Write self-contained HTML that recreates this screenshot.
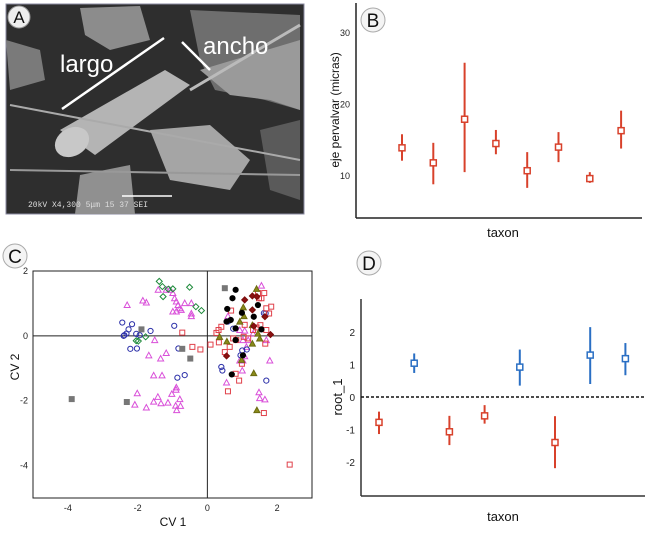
<!DOCTYPE html>
<html><head><meta charset="utf-8"><style>
body{margin:0;background:#fff;}
svg{display:block;font-family:"Liberation Sans",sans-serif;}
</style></head><body>
<svg id="fig" width="650" height="537" viewBox="0 0 650 537" xmlns="http://www.w3.org/2000/svg">
<g>
  <rect x="6" y="4" width="298" height="210" fill="#2e2e2e" stroke="#8a8aa0"/>
  <polygon points="80,8 140,6 150,40 110,50 85,35" fill="#8c8c8c"/>
  <polygon points="190,10 300,15 300,110 265,100 215,90 200,60" fill="#6e6e6e"/>
  <polygon points="200,70 300,40 300,110 270,100 230,95" fill="#9a9a9a"/>
  <polygon points="150,130 210,125 250,160 230,190 170,180" fill="#a5a5a5"/>
  <polygon points="6,40 40,50 45,80 10,90" fill="#7a7a7a"/>
  <polygon points="80,175 130,165 135,214 75,214" fill="#909090"/>
  <polygon points="260,130 300,120 300,200 270,190" fill="#5a5a5a"/>
  <polygon points="60,130 165,70 190,85 95,155" fill="#b4b4b4"/>
  <ellipse cx="72" cy="142" rx="18" ry="14" fill="#c8c8c8" transform="rotate(-30 72 142)"/>
  <line x1="10" y1="105" x2="300" y2="160" stroke="#aaa" stroke-width="2"/>
  <line x1="190" y1="90" x2="300" y2="25" stroke="#bbb" stroke-width="3"/>
  <line x1="10" y1="170" x2="300" y2="175" stroke="#999" stroke-width="2"/>
  <line x1="62" y1="109" x2="164" y2="38" stroke="#fff" stroke-width="2.5"/>
  <line x1="182" y1="42" x2="210" y2="70" stroke="#fff" stroke-width="2.5"/>
  <text x="60" y="72" font-size="24" fill="#fff">largo</text>
  <text x="203" y="54" font-size="24" fill="#fff">ancho</text>
  <line x1="122" y1="196" x2="172" y2="196" stroke="#fff" stroke-width="1.5"/>
  <text x="28" y="207" font-size="8" fill="#ddd" font-family="Liberation Mono,monospace">20kV  X4,300    5μm          15 37 SEI</text>
  <circle cx="19" cy="17" r="11" fill="#eee" stroke="#999"/>
  <text x="19" y="23" font-size="17" text-anchor="middle" fill="#111">A</text>
</g>
<g id="pb"></g>
<g id="pc"></g>
<g id="pd"></g>
</svg>
<script>
const NS="http://www.w3.org/2000/svg";
function mk(p,t,a){const e=document.createElementNS(NS,t);for(const k in a)e.setAttribute(k,a[k]);p.appendChild(e);return e;}
// Panel B data
const bMeans=[13.8,11.7,17.8,14.4,10.6,13.9,9.5,16.2];
const bHigh=[15.7,14.5,25.7,16.3,13.2,16.0,10.4,19.0];
const bLow=[12.0,8.7,10.4,12.9,8.2,11.8,8.9,13.7];
const bTicks=[10,20,30];
// Panel D data
const dMeans=[-0.78,1.04,-1.07,-0.58,0.92,-1.40,1.29,1.18];
const dHigh=[-0.45,1.34,-0.58,-0.25,1.46,-0.59,2.15,1.66];
const dLow=[-1.14,0.74,-1.48,-0.82,0.35,-2.19,0.40,0.67];
const dGroup=["r","b","r","r","b","r","b","b"];
const dTicks=[-2,-1,0,1,2];
// Panel C data
const cGrayX=[0.50,-1.89,-0.72,-0.49,-3.89,-2.31];
const cGrayY=[1.47,0.20,-0.40,-0.70,-1.95,-2.04];
const cGreenX=[-1.38,-1.29,-1.12,-0.99,-0.51,-0.33,-0.17,-1.27,-1.77,-2.04,-1.98];
const cGreenY=[1.68,1.52,1.44,1.45,1.50,0.90,0.78,1.21,-0.03,-0.15,-0.16];
const cBlueX=[-2.44,-2.16,-2.26,-2.32,-2.38,-2.40,-2.04,-1.94,-1.63,-0.95,-2.21,-2.02,-0.83,-0.86,-0.65,0.40,0.43,0.74,1.62,1.67,1.0,1.13,0.95,1.69,0.59];
const cBlueY=[0.41,0.36,0.20,0.07,0.02,0,0.06,0.02,0.15,0.31,-0.40,-0.39,-0.39,-1.29,-1.21,-0.96,-1.07,0.22,0.70,0.69,-0.45,-0.42,-0.6,-1.38,0.44];
const cPinkX=[-2.30,-1.85,-1.75,-1.41,-1.18,-1.08,-0.99,-0.94,-0.89,-0.84,-0.79,-0.75,-0.99,-0.89,-0.65,-0.46,-0.46,-0.46,-1.51,-1.68,-1.34,-1.18,-1.54,-1.30,-2.01,-2.08,-1.75,-1.54,-1.42,-1.33,-1.13,-1.02,-0.90,-0.91,-0.88,-0.79,-0.77,-0.89,1.55,0.59,0.93,1.07,1.17,1.12,1.07,1.02,0.93,1.69,1.79,0.55,1.0,1.48,1.50,1.65,1.02,1.31];
const cPinkY=[0.95,1.09,1.03,1.42,1.42,1.42,1.32,1.16,1.06,0.95,0.85,0.80,0.75,0.75,1.01,1.01,0.69,0.61,-0.13,-0.60,-0.70,-0.53,-1.22,-1.22,-1.77,-2.12,-2.21,-2.03,-1.88,-2.08,-2.06,-1.79,-1.66,-2.15,-2.29,-1.95,-2.16,-1.59,1.55,0.61,0.18,0.16,-0.13,-0.34,-0.63,-0.76,-0.76,-0.13,-0.76,-1.44,-1.07,-1.74,-1.92,-1.96,-0.13,0.07];
const cRedX=[-0.72,-0.43,-0.20,0.09,0.33,0.32,0.40,0.68,1.45,1.63,1.48,1.55,1.69,1.83,1.77,1.52,1.69,1.31,1.04,1.17,0.83,0.74,0.50,0.99,0.81,0.91,0.59,1.62,2.36,1.66,1.07,0.26,0.64,1.41];
const cRedY=[0.10,-0.34,-0.42,-0.27,-0.20,0.18,0.28,0.78,1.32,1.32,1.16,1.16,0.85,0.90,0.69,0.33,0.18,0.18,-0.03,-0.08,-0.13,-0.08,-0.50,-0.86,-1.17,-1.38,-1.71,-2.38,-3.97,-0.24,0.34,0.09,-0.34,0.26];
const cBlackX=[0.81,0.72,0.57,0.67,0.55,0.99,0.81,1.33,1.45,1.55,0.81,1.02,0.70];
const cBlackY=[1.42,1.16,0.83,0.49,0.44,0.71,0.23,0.59,0.95,0.20,-0.13,-0.60,-1.19];
const cDarkX=[1.07,1.29,1.42,1.29,1.65,1.81,0.55,1.33];
const cDarkY=[1.11,1.23,1.21,0.80,0.59,0.04,-0.62,0.30];
const cOliveX=[1.41,1.03,0.93,1.29,1.45,1.50,0.35,0.56,1.29,1.33,1.42,0.98,1.05];
const cOliveY=[1.45,0.88,0.44,0.33,0.07,-0.08,-0.03,-0.17,-0.24,-1.15,-2.29,-0.74,0.61];
const cXTicks=[-4,-2,0,2];
const cYTicks=[2,0,-2,-4];

function letter(g,cx,cy,t,name){
  const c=mk(g,"circle",{cx:cx,cy:cy,r:12,fill:"#f4f4f4",stroke:"#aaa"});
  
  
  const e=mk(g,"text",{x:cx,y:cy+7,"font-size":19,"text-anchor":"middle",fill:"#111"});e.textContent=t;
  
  
}
function errPlot(g,xs,means,hi,lo,yOf,colors,name){
  for(let i=0;i<means.length;i++){
    const col=colors[i];
    const l=mk(g,"line",{x1:xs[i],x2:xs[i],y1:yOf(hi[i]),y2:yOf(lo[i]),stroke:col,"stroke-width":2});
    
    
    const r=mk(g,"rect",{x:xs[i]-3,y:yOf(means[i])-3,width:6,height:6,fill:"#fff",stroke:col,"stroke-width":1.5});
    
    
  }
}
// Panel B
(function(){
  const g=document.getElementById("pb");
  const L=356,R=642,B=218,T=3;
  const yOf=v=>175-(v-10)*7.15;
  const xOf=i=>402+i*31.3;
  mk(g,"line",{x1:L,y1:T,x2:L,y2:B,stroke:"#222","stroke-width":1.5});
  mk(g,"line",{x1:L,y1:B,x2:R,y2:B,stroke:"#222","stroke-width":1.5});
  bTicks.forEach(t=>{const e=mk(g,"text",{x:350,y:yOf(t)+4,"font-size":9,"text-anchor":"end",fill:"#222"});e.textContent=t;
    
    });
  errPlot(g,bMeans.map((_,i)=>xOf(i)),bMeans,bHigh,bLow,yOf,bMeans.map(()=>"#d8412b"),"b");
  const yl=mk(g,"text",{x:0,y:0,"font-size":12,"text-anchor":"middle",fill:"#111",transform:"translate(339,110) rotate(-90)"});yl.textContent="eje pervalvar (micras)";
  
  
  const xl=mk(g,"text",{x:503,y:237,"font-size":13,"text-anchor":"middle",fill:"#111"});xl.textContent="taxon";
  
  
  letter(g,373,20,"B","panel-b-letter");
})();
// Panel D
(function(){
  const g=document.getElementById("pd");
  const L=361,R=645,B=496,T=299;
  const yOf=v=>397-v*32.5;
  const xOf=i=>379+i*35.2;
  mk(g,"line",{x1:L,y1:T,x2:L,y2:B,stroke:"#333","stroke-width":1.5});
  mk(g,"line",{x1:L,y1:B,x2:R,y2:B,stroke:"#333","stroke-width":1.5});
  const z=mk(g,"line",{x1:L,y1:yOf(0),x2:R,y2:yOf(0),stroke:"#111","stroke-width":1.5,"stroke-dasharray":"3,2"});
  
  
  dTicks.forEach(t=>{const e=mk(g,"text",{x:355,y:yOf(t)+4,"font-size":10,"text-anchor":"end",fill:"#222"});e.textContent=t;
    
    });
  errPlot(g,dMeans.map((_,i)=>xOf(i)),dMeans,dHigh,dLow,yOf,dGroup.map(c=>c==="r"?"#d8412b":"#2a6fc4"),"d");
  const yl=mk(g,"text",{x:0,y:0,"font-size":13,"text-anchor":"middle",fill:"#111",transform:"translate(342,397) rotate(-90)"});yl.textContent="root_1";
  
  
  const xl=mk(g,"text",{x:503,y:521,"font-size":13,"text-anchor":"middle",fill:"#111"});xl.textContent="taxon";
  
  
  letter(g,369,263,"D","panel-d-letter");
})();
// Panel C
(function(){
  const g=document.getElementById("pc");
  const L=33,R=312,T=271,B=498;
  const xOf=v=>L+(v+5)*(R-L)/8;
  const yOf=v=>T+(2-v)*(B-T)/7;
  mk(g,"rect",{x:L,y:T,width:R-L,height:B-T,fill:"#fff",stroke:"#222","stroke-width":1});
  mk(g,"line",{x1:xOf(0),y1:T,x2:xOf(0),y2:B,stroke:"#222","stroke-width":1});
  mk(g,"line",{x1:L,y1:yOf(0),x2:R,y2:yOf(0),stroke:"#222","stroke-width":1});
  cXTicks.forEach(t=>{const e=mk(g,"text",{x:xOf(t),y:511,"font-size":9,"text-anchor":"middle",fill:"#222"});e.textContent=t;
    
    });
  cYTicks.forEach(t=>{const e=mk(g,"text",{x:28,y:yOf(t)+3,"font-size":9,"text-anchor":"end",fill:"#222"});e.textContent=t;
    
    });
  function series(xs,ys,shape,col,fill,name){
    for(let i=0;i<xs.length;i++){
      const x=xOf(xs[i]),y=yOf(ys[i]);let e;
      if(shape==="sq")e=mk(g,"rect",{x:x-2.5,y:y-2.5,width:5,height:5,fill:fill,stroke:col,"stroke-width":1});
      else if(shape==="ci")e=mk(g,"circle",{cx:x,cy:y,r:2.6,fill:fill,stroke:col,"stroke-width":1});
      else if(shape==="tr")e=mk(g,"polygon",{points:`${x},${y-3} ${x-3},${y+2.5} ${x+3},${y+2.5}`,fill:fill,stroke:col,"stroke-width":1});
      else e=mk(g,"polygon",{points:`${x},${y-3} ${x+3},${y} ${x},${y+3} ${x-3},${y}`,fill:fill,stroke:col,"stroke-width":1});
      
      
    }
  }
  series(cPinkX,cPinkY,"tr","#d94fd9","none","pink-triangle-point");
  series(cBlueX,cBlueY,"ci","#2b2fa8","none","blue-circle-point");
  series(cGreenX,cGreenY,"di","#1d8a3a","none","green-diamond-point");
  series(cRedX,cRedY,"sq","#e0404a","none","red-square-point");
  series(cGrayX,cGrayY,"sq","#777","#777","gray-square-point");
  series(cOliveX,cOliveY,"tr","#6b6b10","#8a8a1a","olive-triangle-point");
  series(cBlackX,cBlackY,"ci","#000","#000","black-circle-point");
  series(cDarkX,cDarkY,"di","#7a0c0c","#8a1010","darkred-diamond-point");
  const xl=mk(g,"text",{x:173,y:526,"font-size":12,"text-anchor":"middle",fill:"#111"});xl.textContent="CV 1";
  
  
  const yl=mk(g,"text",{x:0,y:0,"font-size":12,"text-anchor":"middle",fill:"#111",transform:"translate(19,367) rotate(-90)"});yl.textContent="CV 2";
  
  
  letter(g,15,256,"C","panel-c-letter");
})();
</script>
</body></html>
